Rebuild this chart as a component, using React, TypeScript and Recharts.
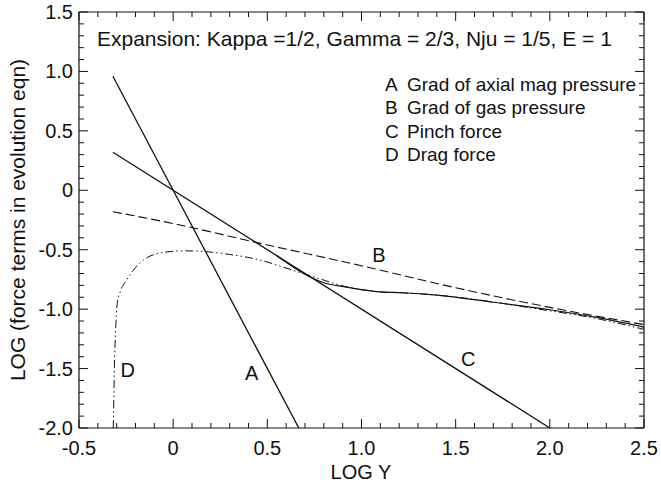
import React from "react";
import {
  LineChart,
  Line,
  XAxis,
  YAxis,
  ReferenceDot,
} from "recharts";

const FONT = "'Liberation Sans', Arial, Helvetica, sans-serif";

// x major ticks and their labels
const xMajor = [-0.5, 0, 0.5, 1.0, 1.5, 2.0, 2.5];
const xMajorLabels = ["-0.5", "0", "0.5", "1.0", "1.5", "2.0", "2.5"];
const yMajor = [1.5, 1.0, 0.5, 0, -0.5, -1.0, -1.5, -2.0];
const yMajorLabels = ["1.5", "1.0", "0.5", "0", "-0.5", "-1.0", "-1.5", "-2.0"];

// minor ticks every 0.1
const xTicks: number[] = [];
for (let i = -5; i <= 25; i++) xTicks.push(i / 10);
const yTicks: number[] = [];
for (let i = -20; i <= 15; i++) yTicks.push(i / 10);

// A: grad of axial mag pressure
const lineA = [
  { x: -0.32, y: 0.96 },
  { x: 0.667, y: -2.0 },
];
// B: grad of gas pressure
const lineB = [
  { x: -0.32, y: -0.18 },
  { x: 0, y: -0.28 },
  { x: 0.5, y: -0.46 },
  { x: 1.0, y: -0.635 },
  { x: 1.5, y: -0.82 },
  { x: 2.0, y: -0.985 },
  { x: 2.5, y: -1.13 },
];
// C: pinch force
const lineC = [
  { x: -0.32, y: 0.32 },
  { x: 2.0, y: -2.0 },
];
// D: drag force
const lineD = [
  { x: -0.318, y: -2.0 },
  { x: -0.315, y: -1.75 },
  { x: -0.312, y: -1.48 },
  { x: -0.306, y: -1.2 },
  { x: -0.297, y: -0.95 },
  { x: -0.28, y: -0.85 },
  { x: -0.247, y: -0.754 },
  { x: -0.2, y: -0.65 },
  { x: -0.158, y: -0.586 },
  { x: -0.1, y: -0.54 },
  { x: -0.05, y: -0.522 },
  { x: 0.05, y: -0.51 },
  { x: 0.1, y: -0.51 },
  { x: 0.2, y: -0.52 },
  { x: 0.3, y: -0.54 },
  { x: 0.46, y: -0.586 },
  { x: 0.6, y: -0.655 },
  { x: 0.74, y: -0.725 },
  { x: 0.92, y: -0.812 },
  { x: 1.1, y: -0.855 },
  { x: 1.25, y: -0.865 },
  { x: 1.42, y: -0.885 },
  { x: 1.7, y: -0.94 },
  { x: 1.9, y: -0.99 },
  { x: 2.25, y: -1.08 },
  { x: 2.5, y: -1.17 },
];
// solid curve leaving C and joining D
const lineE = [
  { x: 0.55, y: -0.55 },
  { x: 0.744, y: -0.742 },
  { x: 0.8, y: -0.778 },
  { x: 0.92, y: -0.815 },
  { x: 1.0, y: -0.836 },
  { x: 1.1, y: -0.855 },
  { x: 1.22, y: -0.862 },
  { x: 1.4, y: -0.882 },
  { x: 1.7, y: -0.942 },
  { x: 2.0, y: -1.005 },
  { x: 2.25, y: -1.07 },
  { x: 2.5, y: -1.152 },
];

const curveLabels = [
  { name: "A", x: 0.417, y: -1.54 },
  { name: "B", x: 1.093, y: -0.544 },
  { name: "C", x: 1.567, y: -1.42 },
  { name: "D", x: -0.241, y: -1.51 },
];

const legendItems = [
  ["A", "Grad of axial mag pressure"],
  ["B", "Grad of gas pressure"],
  ["C", "Pinch force"],
  ["D", "Drag force"],
];

const isMajor = (v: number) => Math.abs(v * 2 - Math.round(v * 2)) < 1e-6;
const xLabel = (v: number) => {
  const i = xMajor.findIndex((m) => Math.abs(m - v) < 1e-6);
  return i >= 0 ? xMajorLabels[i] : "";
};
const yLabel = (v: number) => {
  const i = yMajor.findIndex((m) => Math.abs(m - v) < 1e-6);
  return i >= 0 ? yMajorLabels[i] : "";
};

function BottomTick(props: any) {
  const { x, y, payload } = props;
  const major = isMajor(payload.value);
  return (
    <g>
      <line x1={x} y1={y} x2={x} y2={y - (major ? 9 : 5)} stroke="#111" strokeWidth={1} />
      {major && (
        <text x={x} y={y + 27} textAnchor="middle" fontSize={20} fontFamily={FONT} fill="#111">
          {xLabel(payload.value)}
        </text>
      )}
    </g>
  );
}

function TopTick(props: any) {
  const { x, y, payload } = props;
  const major = isMajor(payload.value);
  return <line x1={x} y1={y} x2={x} y2={y + (major ? 9 : 5)} stroke="#111" strokeWidth={1} />;
}

function LeftTick(props: any) {
  const { x, y, payload } = props;
  const major = isMajor(payload.value);
  return (
    <g>
      <line x1={x} y1={y} x2={x + (major ? 9 : 5)} y2={y} stroke="#111" strokeWidth={1} />
      {major && (
        <text x={x - 6} y={y + 7} textAnchor="end" fontSize={20} fontFamily={FONT} fill="#111">
          {yLabel(payload.value)}
        </text>
      )}
    </g>
  );
}

function RightTick(props: any) {
  const { x, y, payload } = props;
  const major = isMajor(payload.value);
  return <line x1={x} y1={y} x2={x - (major ? 9 : 5)} y2={y} stroke="#111" strokeWidth={1} />;
}

export default function App() {
  return (
    <div style={{ position: "relative", width: 661, height: 493, background: "#fff", fontFamily: FONT }}>
      <style>{"body{margin:0}"}</style>
      <LineChart width={661} height={493} margin={{ top: 0, right: 0, bottom: 0, left: 0 }}>
        <XAxis
          xAxisId="bottom"
          type="number"
          dataKey="x"
          domain={[-0.5, 2.5]}
          ticks={xTicks}
          interval={0}
          allowDataOverflow
          height={65}
          tickSize={0}
          tickMargin={0}
          tickLine={false}
          axisLine={{ stroke: "#111", strokeWidth: 1.2 }}
          tick={<BottomTick />}
        />
        <XAxis
          xAxisId="top"
          orientation="top"
          type="number"
          dataKey="x"
          domain={[-0.5, 2.5]}
          ticks={xTicks}
          interval={0}
          allowDataOverflow
          height={12}
          tickSize={0}
          tickMargin={0}
          tickLine={false}
          axisLine={{ stroke: "#111", strokeWidth: 1.2 }}
          tick={<TopTick />}
        />
        <YAxis
          yAxisId="left"
          type="number"
          dataKey="y"
          domain={[-2, 1.5]}
          ticks={yTicks}
          interval={0}
          allowDataOverflow
          width={79}
          tickSize={0}
          tickMargin={0}
          tickLine={false}
          axisLine={{ stroke: "#111", strokeWidth: 1.2 }}
          tick={<LeftTick />}
        />
        <YAxis
          yAxisId="right"
          orientation="right"
          type="number"
          dataKey="y"
          domain={[-2, 1.5]}
          ticks={yTicks}
          interval={0}
          allowDataOverflow
          width={17}
          tickSize={0}
          tickMargin={0}
          tickLine={false}
          axisLine={{ stroke: "#111", strokeWidth: 1.2 }}
          tick={<RightTick />}
        />
        <Line xAxisId="bottom" yAxisId="left" data={lineA} dataKey="y" type="linear" stroke="#111" strokeWidth={1.3} dot={false} isAnimationActive={false} />
        <Line xAxisId="bottom" yAxisId="left" data={lineC} dataKey="y" type="linear" stroke="#111" strokeWidth={1.3} dot={false} isAnimationActive={false} />
        <Line xAxisId="bottom" yAxisId="left" data={lineB} dataKey="y" type="monotone" stroke="#111" strokeWidth={1.1} strokeDasharray="9 4" dot={false} isAnimationActive={false} />
        <Line xAxisId="bottom" yAxisId="left" data={lineD} dataKey="y" type="monotone" stroke="#111" strokeWidth={1} strokeDasharray="8 3 1.5 3 1.5 3" dot={false} isAnimationActive={false} />
        <Line xAxisId="bottom" yAxisId="left" data={lineE} dataKey="y" type="monotone" stroke="#111" strokeWidth={1.2} dot={false} isAnimationActive={false} />
        {curveLabels.map((c) => (
          <ReferenceDot
            key={c.name}
            xAxisId="bottom"
            yAxisId="left"
            x={c.x}
            y={c.y}
            r={0}
            fill="none"
            stroke="none"
            label={{ value: c.name, position: "center", fontSize: 20, fontFamily: FONT, fill: "#111" }}
          />
        ))}
      </LineChart>
      <div style={{ position: "absolute", left: 97, top: 27, fontSize: 21, color: "#111", whiteSpace: "nowrap", lineHeight: "24px" }}>
        Expansion: Kappa =1/2, Gamma = 2/3, Nju = 1/5, E = 1
      </div>
      <div style={{ position: "absolute", left: 385, top: 73, fontSize: 19, color: "#111", lineHeight: "23.3px" }}>
        {legendItems.map(([k, t]) => (
          <div key={k} style={{ whiteSpace: "nowrap" }}>
            <span style={{ display: "inline-block", width: 22 }}>{k}</span>
            {t}
          </div>
        ))}
      </div>
      <div style={{ position: "absolute", left: 361, top: 461, transform: "translateX(-50%)", fontSize: 20, color: "#111", whiteSpace: "nowrap" }}>
        LOG Y
      </div>
      <div
        style={{
          position: "absolute",
          left: 18,
          top: 220,
          transform: "translate(-50%, -50%) rotate(-90deg)",
          fontSize: 21,
          color: "#111",
          whiteSpace: "nowrap",
        }}
      >
        LOG (force terms in evolution eqn)
      </div>
    </div>
  );
}
